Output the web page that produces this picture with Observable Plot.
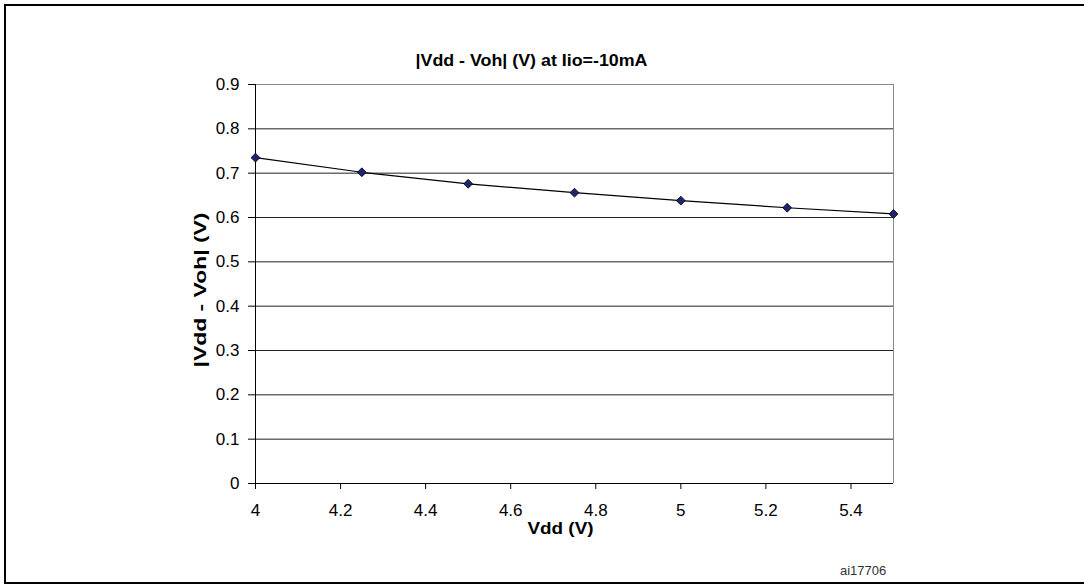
<!DOCTYPE html>
<html>
<head>
<meta charset="utf-8">
<script src="https://cdn.jsdelivr.net/npm/d3@7"></script>
<script src="https://cdn.jsdelivr.net/npm/@observablehq/plot@0.6"></script>
<style>
  html, body { margin: 0; padding: 0; background: #fff; width: 1084px; height: 586px; overflow: hidden; }
  #frame { position: absolute; left: 4px; top: 4px; width: 1200px; height: 580px; border: 2px solid #000; box-sizing: border-box; }
  #chart { position: absolute; left: 0; top: 0; }
  #code { position: absolute; left: 840px; top: 563px; font: 13px "Liberation Sans", Arial, sans-serif; color: #333; }
</style>
</head>
<body>
<div id="frame"></div>
<div id="chart"></div>
<div id="code">ai17706</div>
<script>
const vdd = [4, 4.25, 4.5, 4.75, 5, 5.25, 5.5];
const vddMinusVoh = [0.735, 0.702, 0.676, 0.656, 0.638, 0.622, 0.608];
const xTicks = [4, 4.2, 4.4, 4.6, 4.8, 5, 5.2, 5.4];
const yTicks = [0, 0.1, 0.2, 0.3, 0.4, 0.5, 0.6, 0.7, 0.8, 0.9];
const titleText = "|Vdd - Voh| (V) at Iio=-10mA";
const xLabel = "Vdd (V)";
const yLabel = "|Vdd - Voh| (V)";

const data = vdd.map((v, i) => ({vdd: v, val: vddMinusVoh[i]}));
const fmt = d => String(+d.toFixed(1));

const chart = Plot.plot({
  width: 1084,
  height: 586,
  marginLeft: 255,
  marginRight: 191,
  marginTop: 84,
  marginBottom: 103,
  style: {fontFamily: '"Liberation Sans", Arial, sans-serif', fontSize: "17px", color: "#000", background: "transparent"},
  x: {domain: [4, 5.5]},
  y: {domain: [0, 0.9]},
  marks: [
    Plot.gridY(yTicks.filter(d => d > 0 && d < 0.9), {stroke: "#222", strokeOpacity: 1, strokeWidth: 1}),
    Plot.ruleY([0.9], {stroke: "#888", strokeWidth: 1}),
    Plot.ruleX([5.5], {y1: 0, y2: 0.9, stroke: "#888", strokeWidth: 1}),
    Plot.ruleY([0], {stroke: "#000", strokeWidth: 1}),
    Plot.ruleX([4], {y1: 0, y2: 0.9, stroke: "#000", strokeWidth: 1}),
    Plot.axisY({ticks: yTicks, tickSize: 7, tickPadding: 9, label: null, tickFormat: fmt, stroke: "#000", fontSize: 17}),
    Plot.axisX({ticks: xTicks, tickSize: 6, tickPadding: 14, label: null, tickFormat: fmt, stroke: "#000", fontSize: 17}),
    Plot.line(data, {x: "vdd", y: "val", stroke: "#000", strokeWidth: 1.2}),
    Plot.dot(data, {x: "vdd", y: "val", symbol: "diamond2", r: 4, fill: "#1f2470", stroke: "#000", strokeWidth: 0.8}),
    Plot.text([titleText], {className: "ttl", frameAnchor: "top", text: d => d, dx: -43, dy: -24, fontWeight: "bold", fontSize: 16, lineAnchor: "middle", textAnchor: "middle"}),
    Plot.text([xLabel], {className: "xl", frameAnchor: "bottom", text: d => d, dx: -14, dy: 45, fontWeight: "bold", fontSize: 16, lineAnchor: "middle", textAnchor: "middle"}),
    Plot.text([yLabel], {className: "yl", frameAnchor: "left", text: d => d, dx: -55, dy: 6, rotate: -90, fontWeight: "bold", fontSize: 16, lineAnchor: "middle", textAnchor: "middle"})
  ]
});
document.getElementById("chart").appendChild(chart);
const sv = d3.select(chart);
sv.selectAll(".ttl text").attr("textLength", 232).attr("lengthAdjust", "spacingAndGlyphs");
sv.selectAll(".xl text").attr("textLength", 66).attr("lengthAdjust", "spacingAndGlyphs");
sv.selectAll(".yl text").attr("textLength", 155).attr("lengthAdjust", "spacingAndGlyphs");
</script>
</body>
</html>
